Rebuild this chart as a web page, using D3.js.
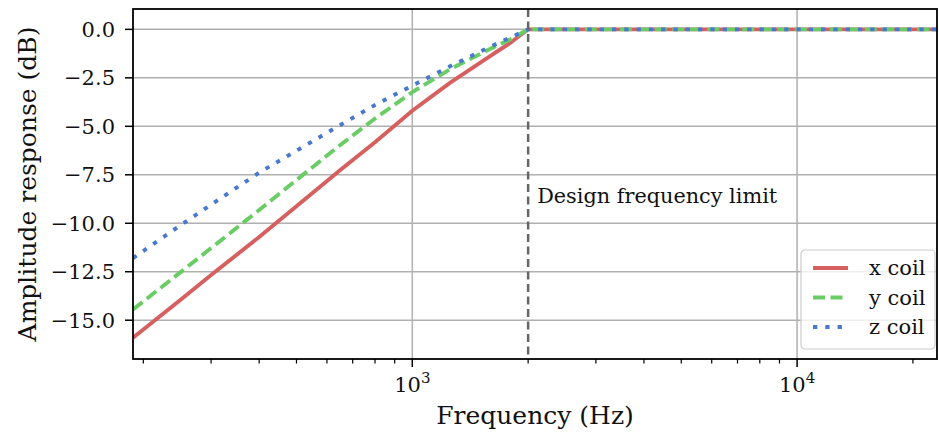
<!DOCTYPE html>
<html>
<head>
<meta charset="utf-8">
<script src="https://cdn.jsdelivr.net/npm/d3@7"></script>
<style>
  body { margin: 0; background: #fff; }
  svg { display: block; font-family: "DejaVu Serif", serif; }
</style>
</head>
<body>
<div id="chart"></div>
<script>
// frequencies (Hz) and responses (dB)
let freqs = [188, 250, 300, 400, 500, 650, 800, 1000, 1250, 1600, 1800, 1900, 2000, 5000, 10000, 20000, 25000];
let xCoil = [-15.9, -13.94, -12.67, -10.71, -9.12, -7.25, -5.82, -4.2, -2.77, -1.36, -0.69, -0.33, 0, 0, 0, 0, 0];
let yCoil = [-14.45, -12.52, -11.28, -9.32, -7.77, -5.96, -4.6, -3.24, -2.07, -0.99, -0.51, -0.25, 0, 0, 0, 0, 0];
let zCoil = [-11.8, -10.1, -9.04, -7.39, -6.26, -4.93, -3.9, -2.9, -1.92, -0.88, -0.42, -0.2, 0, 0, 0, 0, 0];
let seriesNames = ['x coil', 'y coil', 'z coil'];
let yTicks = [0, -2.5, -5, -7.5, -10, -12.5, -15];
let xMajor = [1000, 10000];
let xMinor = [200, 300, 400, 500, 600, 700, 800, 900, 2000, 3000, 4000, 5000, 6000, 7000, 8000, 9000, 20000];
let designFreq = 2000;

let width = 939;
let height = 433;
let margin = {top: 9, bottom: 74, left: 133, right: 2};
let w = width - margin.left - margin.right;
let h = height - margin.top - margin.bottom;

let svg = d3.select('#chart')
    .append('svg')
        .attr('width', width)
        .attr('height', height);

let g = svg.append('g')
    .attr('transform', 'translate(' + margin.left + ',' + margin.top + ')');

let xScale = d3.scaleLog()
    .domain([188, 23100])
    .range([0, w]);

let yScale = d3.scaleLinear()
    .domain([-17.0, 1.05])
    .range([h, 0]);

svg.append('defs').append('clipPath')
    .attr('id', 'plot-clip')
  .append('rect')
    .attr('width', w)
    .attr('height', h);

// grid
g.selectAll('.hgrid')
    .data(yTicks)
    .enter().append('line')
    .attr('x1', 0).attr('x2', w)
    .attr('y1', d => yScale(d)).attr('y2', d => yScale(d))
    .attr('stroke', '#b0b0b0')
    .attr('stroke-width', 1.5);

g.selectAll('.vgrid')
    .data(xMajor)
    .enter().append('line')
    .attr('x1', d => xScale(d)).attr('x2', d => xScale(d))
    .attr('y1', 0).attr('y2', h)
    .attr('stroke', '#b0b0b0')
    .attr('stroke-width', 1.5);

// lines
let series = [
    {name: seriesNames[0], values: xCoil, color: '#d65f5f', dash: null},
    {name: seriesNames[1], values: yCoil, color: '#6acc64', dash: '12,5.5'},
    {name: seriesNames[2], values: zCoil, color: '#4878d0', dash: '4.3,8'}
];

let line = d3.line()
    .x((d, i) => xScale(freqs[i]))
    .y(d => yScale(d));

let plot = g.append('g').attr('clip-path', 'url(#plot-clip)');
series.forEach(function (s) {
    plot.append('path')
        .datum(s.values)
        .attr('fill', 'none')
        .attr('stroke', s.color)
        .attr('stroke-width', 3.9)
        .attr('stroke-dasharray', s.dash)
        .attr('d', line);
});

// design frequency marker
g.append('line')
    .attr('x1', xScale(designFreq)).attr('x2', xScale(designFreq))
    .attr('y1', 0).attr('y2', h)
    .attr('stroke', '#666')
    .attr('stroke-width', 2.5)
    .attr('stroke-dasharray', '8,4.5');

g.append('text')
    .attr('x', xScale(designFreq) + 9)
    .attr('y', yScale(-8.95))
    .attr('font-size', 20.8)
    .attr('fill', '#111')
    .text('Design frequency limit');

// spines
g.append('rect')
    .attr('width', w)
    .attr('height', h)
    .attr('fill', 'none')
    .attr('stroke', '#000')
    .attr('stroke-width', 1.8);

// y ticks
let yt = g.selectAll('.ytick')
    .data(yTicks)
    .enter().append('g')
    .attr('transform', d => 'translate(0,' + yScale(d) + ')');
yt.append('line')
    .attr('x1', -8).attr('x2', 0)
    .attr('stroke', '#000').attr('stroke-width', 1.5);
yt.append('text')
    .attr('x', -18)
    .attr('dy', '0.36em')
    .attr('text-anchor', 'end')
    .attr('font-size', 21)
    .attr('fill', '#111')
    .text(d => d3.format('.1f')(d).replace('-', '\u2212'));

// x ticks
g.selectAll('.xminor')
    .data(xMinor.filter(d => d >= 188 && d <= 23100))
    .enter().append('line')
    .attr('x1', d => xScale(d)).attr('x2', d => xScale(d))
    .attr('y1', h).attr('y2', h + 4.5)
    .attr('stroke', '#000').attr('stroke-width', 1.2);

let xt = g.selectAll('.xmajor')
    .data(xMajor)
    .enter().append('g')
    .attr('transform', d => 'translate(' + xScale(d) + ',' + h + ')');
xt.append('line')
    .attr('y1', 0).attr('y2', 8)
    .attr('stroke', '#000').attr('stroke-width', 1.5);
let lab = xt.append('text')
    .attr('y', 33)
    .attr('text-anchor', 'middle')
    .attr('font-size', 21)
    .attr('fill', '#111');
lab.append('tspan').text('10');
lab.append('tspan')
    .attr('dy', -9)
    .attr('font-size', 15)
    .text(d => Math.round(Math.log10(d)));

// axis labels
svg.append('text')
    .attr('x', margin.left + w / 2)
    .attr('y', 424)
    .attr('text-anchor', 'middle')
    .attr('font-size', 25)
    .attr('fill', '#111')
    .text('Frequency (Hz)');

svg.append('text')
    .attr('transform', 'translate(36,' + (margin.top + h / 2) + ') rotate(-90)')
    .attr('text-anchor', 'middle')
    .attr('font-size', 25)
    .attr('fill', '#111')
    .text('Amplitude response (dB)');

// legend
let leg = svg.append('g').attr('transform', 'translate(801,250)');
leg.append('rect')
    .attr('width', 134)
    .attr('height', 99)
    .attr('rx', 4)
    .attr('fill', 'rgba(255,255,255,0.8)')
    .attr('stroke', '#cccccc')
    .attr('stroke-width', 1.2);
let rows = leg.selectAll('.row')
    .data(series)
    .enter().append('g')
    .attr('transform', (d, i) => 'translate(0,' + (18 + i * 29.5) + ')');
rows.append('line')
    .attr('x1', 12).attr('x2', 47)
    .attr('stroke', d => d.color)
    .attr('stroke-width', 3.9)
    .attr('stroke-dasharray', d => d.dash);
rows.append('text')
    .attr('x', 68)
    .attr('dy', '0.35em')
    .attr('font-size', 21)
    .attr('fill', '#111')
    .text(d => d.name);
</script>
</body>
</html>
